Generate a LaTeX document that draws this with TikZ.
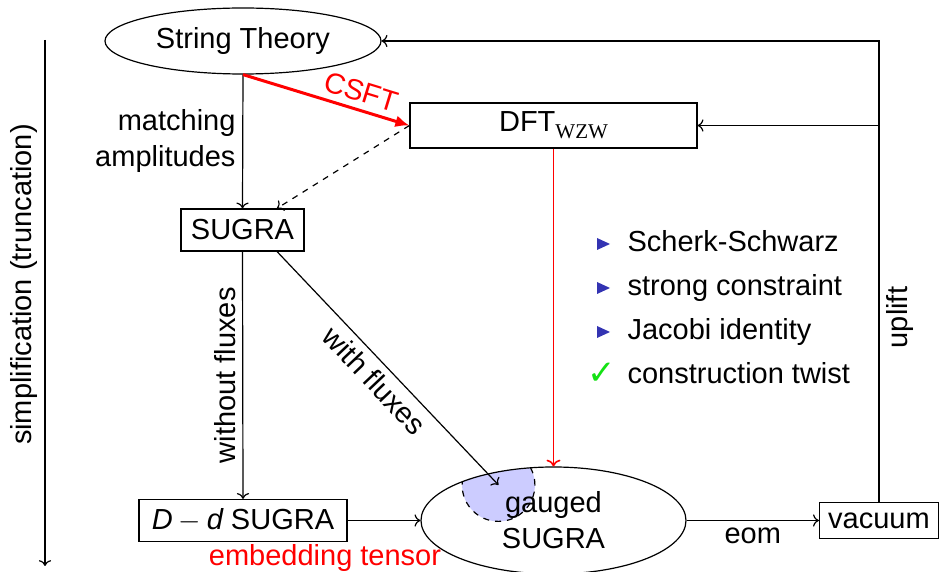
\documentclass[tikz,border=0pt]{standalone}
\usepackage{fontspec}
\setmainfont{Liberation Sans}
\newfontfamily\subfont{Liberation Serif}
\newfontfamily\symfont{DejaVu Sans}
\usetikzlibrary{shapes.geometric,arrows.meta,calc}
\definecolor{structblue}{RGB}{51,51,178}
\definecolor{checkgreen}{RGB}{20,225,20}
\definecolor{blobblue}{RGB}{204,204,255}
\begin{document}
\begin{tikzpicture}[x=0.5pt,y=-0.5pt,
  font=\fontsize{14.5}{18}\selectfont, line width=0.6pt,
  box/.style={draw, rectangle, inner sep=0pt},
  oval/.style={draw, ellipse, inner sep=0pt},
  lbl/.style={inner sep=0pt}]
\useasboundingbox (0,0) rectangle (939,572);

% main objects
\node[oval, minimum width=138pt, minimum height=33pt] (st) at (243,41) {String Theory};
\node[box, minimum width=143.5pt, minimum height=22.5pt] (dft) at (553.5,125.5)
  {DFT\raisebox{-3.5pt}{\subfont\fontsize{10.5}{12}\selectfont WZW}};
\node[box, minimum width=61.5pt, minimum height=21pt] (sugra) at (242.5,230) {SUGRA};
\node[box, minimum width=104pt, minimum height=21pt] (dd) at (243,520.5)
  {{\itshape D}\hspace{0.2em}$-$\hspace{0.2em}{\itshape d} SUGRA};
\node[box, minimum width=59.5pt, minimum height=18pt] (vac) at (879,520.5) {vacuum};

% gauged SUGRA with the shaded flux region inside it
\coordinate (gc) at (553.5,520.5);
\coordinate (hub) at (498.5,485);
\begin{scope}
  \clip (gc) ellipse [x radius=66.25pt, y radius=26.75pt];
  \fill[blobblue] (hub) circle [radius=18.2pt];
  \draw[dashed] (hub) circle [radius=18.2pt];
\end{scope}
\node[oval, minimum width=132.5pt, minimum height=53.5pt, align=center] (gs) at (gc) {gauged\\SUGRA};

% connectors
\draw[->] (st.south) -- node[left, align=right] (lmatch) {matching\\amplitudes} (sugra.north);
\draw[red, line width=1.5pt, -{Latex[length=7pt,width=6pt]}] (st.south) --
  node[pos=0.68, sloped, above, text=red] (lcsft) {CSFT} (dft.west);
\draw[->, dashed] (dft.west) -- (sugra);
\draw[->, red, line width=0.8pt] (dft) -- (gs);
\draw[->] (sugra.south) -- node[rotate=90, anchor=south] (lwithout) {without fluxes} (dd.north);
\draw[->] (sugra.-32) -- node[sloped, below] (lwith) {with fluxes} (hub);
\draw[->] (dd) -- (gs);
\draw[->] (gs) -- node[below] (leom) {eom} (vac);
\draw[->] (vac.north) |- node[pos=0.2, rotate=90, anchor=north] (luplift) {uplift} (st.east);
\draw[->] (vac.north |- dft.east) -- (dft.east);

\node[anchor=base, text=red, lbl] (lemb) at (325,566) {embedding tensor};

% simplification axis
\coordinate (atop) at (45,40);
\coordinate (abot) at (45,566);
\draw[->] (atop) -- node[pos=0.465, rotate=90, anchor=south] (lsimp) {simplification (truncation)} (abot);

% conditions list
\foreach \yy/\txt [count=\i] in {252/Scherk-Schwarz, 296/strong constraint, 340/Jacobi identity} {
  \node[anchor=base west, lbl] (item\i) at (627,\yy) {\txt};
  \fill[structblue] ($(item\i.base west)+(-30,-14)$) -- ++(0,12) -- ++(13,-6) -- cycle;
}
\node[anchor=base west, lbl] (item4) at (627,384) {construction twist};
\node[anchor=base, text=checkgreen, lbl] (tick) at (602,385) {\symfont\fontsize{17}{17}\selectfont ✓};
\end{tikzpicture}
\end{document}
